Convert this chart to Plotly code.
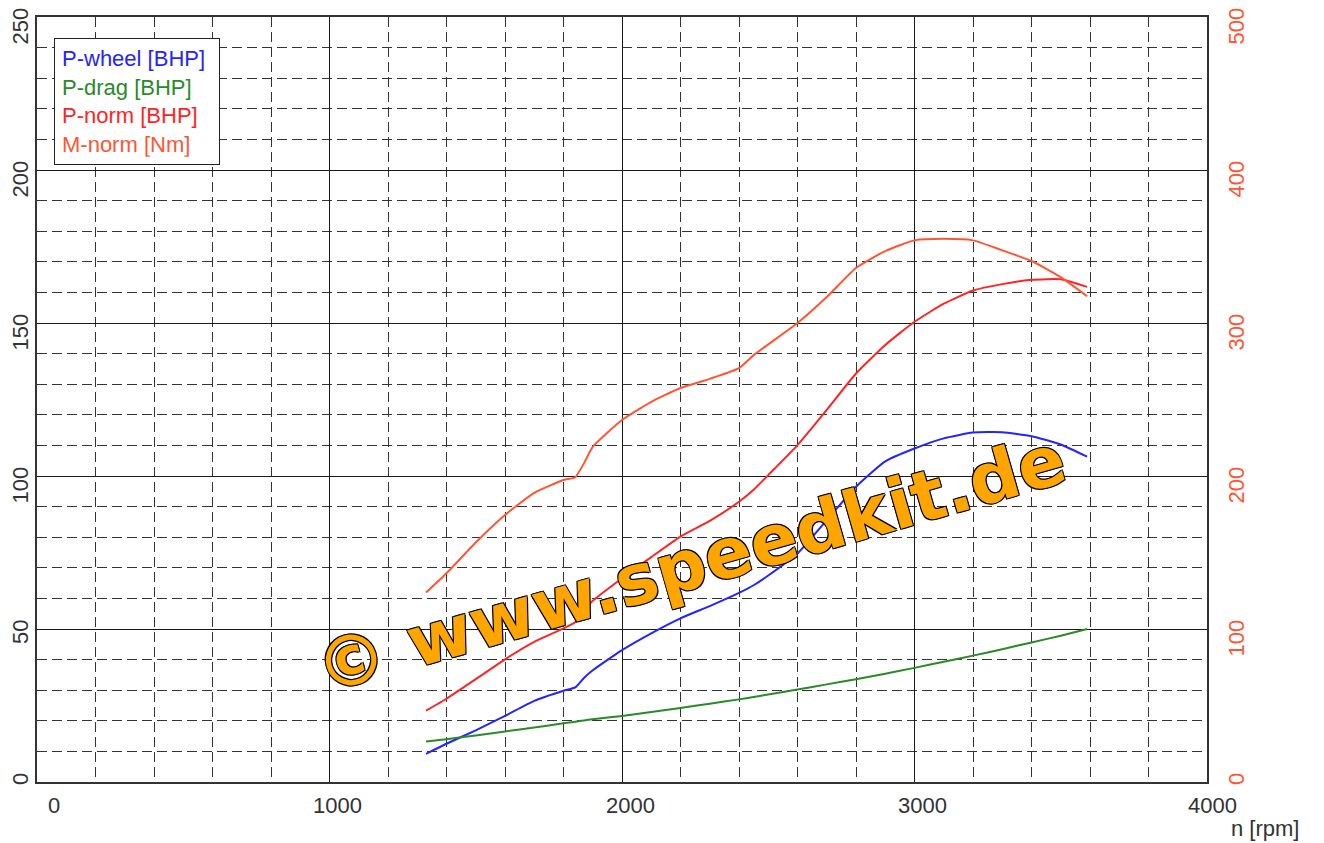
import plotly.graph_objects as go

# ---- data ----
rpm = [1330, 1400, 1500, 1600, 1700, 1800, 1840, 1870, 1900, 2000, 2100, 2200, 2300,
       2400, 2450, 2500, 2600, 2700, 2800, 2900, 3000, 3100, 3200, 3300, 3400, 3500, 3590]

p_wheel = [9.2, 12.5, 16.9, 21.6, 26.5, 29.8, 30.9, 34.0, 36.5, 43.1, 48.6, 53.5, 57.5,
           61.8, 64.3, 67.5, 74.7, 85.6, 96.5, 104.8, 109.0, 112.3, 114.2, 114.3, 113.0, 110.3, 106.3]

p_drag = [13.2, 14.0, 15.2, 16.5, 17.8, 19.2, 19.7, 20.1, 20.5, 21.6, 22.9, 24.2, 25.6,
          27.0, 27.8, 28.6, 30.2, 31.9, 33.6, 35.4, 37.3, 39.3, 41.3, 43.4, 45.6, 47.8, 50.0]

p_norm = [23.3, 27.2, 33.6, 40.1, 45.8, 50.2, 52.2, 56.0, 59.2, 66.6, 73.5, 80.2, 85.3,
          91.6, 95.5, 100.3, 110.1, 121.6, 133.5, 142.8, 150.4, 156.3, 160.6, 162.7, 164.1, 164.3, 161.8]

m_norm = [123.8, 136.4, 156.5, 174.5, 189.0, 197.4, 199.2, 208.3, 219.0, 236.6, 248.5, 257.5, 263.5,
          270.5, 279.0, 286.0, 300.0, 317.0, 336.0, 347.0, 354.0, 355.0, 354.0, 347.5, 340.5, 330.0, 317.5]

legend_labels = ["P-wheel [BHP]", "P-drag [BHP]", "P-norm [BHP]", "M-norm [Nm]"]
x_ticks = [0, 1000, 2000, 3000, 4000]
y_left_ticks = [0, 50, 100, 150, 200, 250]
y_right_ticks = [0, 100, 200, 300, 400, 500]
x_label = "n [rpm]"
watermark = "© www.speedkit.de"

C_BLUE = "#2424FF"
C_GREEN = "#2A8A2A"
C_RED = "#FF2424"
C_ORANGE = "#FF5533"
FONT = "Liberation Sans, Arial, sans-serif"
TXT = "#333333"
DASH = "10px,5px"

fig = go.Figure()
line_kw = dict(width=2, shape="spline", smoothing=0.5)
fig.add_trace(go.Scatter(x=rpm, y=p_wheel, mode="lines", line=dict(color=C_BLUE, **line_kw), name=legend_labels[0]))
fig.add_trace(go.Scatter(x=rpm, y=p_drag, mode="lines", line=dict(color=C_GREEN, **line_kw), name=legend_labels[1]))
fig.add_trace(go.Scatter(x=rpm, y=p_norm, mode="lines", line=dict(color=C_RED, **line_kw), name=legend_labels[2]))
fig.add_trace(go.Scatter(x=rpm, y=m_norm, mode="lines", line=dict(color=C_ORANGE, **line_kw), name=legend_labels[3], yaxis="y2"))

legend_html = "<br>".join(
    f"<span style='color:{c}'>{t}</span>"
    for t, c in zip(legend_labels, [C_BLUE, C_GREEN, C_RED, C_ORANGE])
)

annotations = []
# y tick labels (rotated, text end anchored a little above the grid line, like the reference)
for v in y_left_ticks:
    annotations.append(dict(text=str(v), xref="paper", yref="y", x=(20 - 37) / 1170, y=v,
                            xanchor="center", yanchor="top", yshift=10, textangle=-90,
                            showarrow=False, borderpad=0, font=dict(size=22, color=TXT, family=FONT)))
for v in y_right_ticks:
    annotations.append(dict(text=str(v), xref="paper", yref="y2", x=(1236 - 37) / 1170, y=v,
                            xanchor="center", yanchor="top", yshift=10, textangle=-90,
                            showarrow=False, borderpad=0, font=dict(size=22, color=C_ORANGE, family=FONT)))
# x tick labels
x_shifts = [17, 8, 8, 8, 5]
for v, s in zip(x_ticks, x_shifts):
    annotations.append(dict(text=str(v), xref="x", yref="paper", x=v, y=(782 - 806) / 765,
                            xanchor="center", yanchor="middle", xshift=s, showarrow=False,
                            font=dict(size=22, color=TXT, family=FONT)))

annotations += [
    dict(text=legend_html, xref="paper", yref="paper",
         x=(54 - 37) / 1170, y=(782 - 38) / 765, xanchor="left", yanchor="top",
         showarrow=False, align="left", bgcolor="white", bordercolor="#222",
         borderwidth=1, borderpad=7, width=150, font=dict(size=22, family=FONT)),
    dict(text=x_label, xref="paper", yref="paper",
         x=(1265 - 37) / 1170, y=(782 - 828) / 765, xanchor="center", yanchor="middle",
         showarrow=False, font=dict(size=22, color=TXT, family=FONT)),
    dict(text=watermark, xref="x", yref="y", x=2236, y=71.2,
         xanchor="center", yanchor="middle", showarrow=False, textangle=-16,
         font=dict(family="DejaVu Sans, sans-serif", size=70, color="#FFA500", weight="bold",
                   shadow="1px 1px 0 #000, -1px -1px 0 #000, 1px -1px 0 #000, -1px 1px 0 #000")),
]

fig.update_layout(
    width=1324, height=843,
    margin=dict(l=37, r=117, t=17, b=61),
    paper_bgcolor="white", plot_bgcolor="white",
    showlegend=False,
    font=dict(family=FONT, size=22, color=TXT),
    xaxis=dict(
        range=[0, 4000], tickvals=x_ticks, ticks="", showgrid=True, automargin=False,
        showticklabels=False,
        gridcolor="#1a1a1a", gridwidth=1.3,
        minor=dict(dtick=200, showgrid=True, gridcolor="#333", gridwidth=1.3, griddash=DASH),
        showline=True, mirror=True, linecolor="#333", linewidth=1.5, zeroline=False,
    ),
    yaxis=dict(
        range=[0, 250], tickvals=y_left_ticks, ticks="", showgrid=True, automargin=False,
        showticklabels=False,
        gridcolor="#1a1a1a", gridwidth=1.3,
        minor=dict(dtick=10, showgrid=True, gridcolor="#333", gridwidth=1.3, griddash=DASH),
        showline=True, mirror=True, linecolor="#333", linewidth=1.5, zeroline=False,
    ),
    yaxis2=dict(
        range=[0, 500], tickvals=y_right_ticks, overlaying="y", side="right", automargin=False,
        showgrid=False, zeroline=False, ticks="", showticklabels=False,
    ),
    annotations=annotations,
)

fig.write_html("out.html", post_script="document.body.style.margin='0';",
               config={"displayModeBar": False})
